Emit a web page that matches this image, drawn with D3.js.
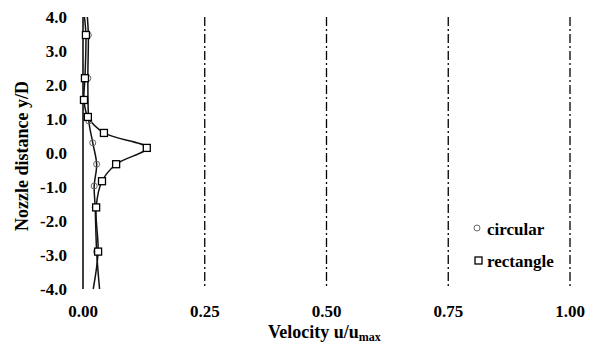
<!DOCTYPE html>
<html>
<head>
<meta charset="utf-8">
<script src="https://cdn.jsdelivr.net/npm/d3@7"></script>
<style>
  body { margin: 0; background: #fff; }
</style>
</head>
<body>
<div id="chart"></div>
<script>
// values
var xTicks = [0, 0.25, 0.5, 0.75, 1.0];
var yTicks = [4, 3, 2, 1, 0, -1, -2, -3, -4];

var circY = [4.0, 3.47, 2.2, 0.94, 0.3, -0.33, -0.97, -1.6, -2.9, -4.0];
var circX = [0.009, 0.011, 0.01, 0.012, 0.02, 0.028, 0.023, 0.025, 0.028, 0.034];

var rectY = [4.0, 3.47, 2.2, 1.56, 1.06, 0.59, 0.15, -0.33, -0.83, -1.6, -2.9, -4.0];
var rectX = [0.003, 0.006, 0.004, 0.002, 0.01, 0.043, 0.131, 0.068, 0.039, 0.027, 0.031, 0.021];

var width = 594;
var height = 347;

var svg = d3.select('#chart')
    .append('svg')
    .attr('width', width)
    .attr('height', height)
    .attr('font-family', "'Liberation Serif', 'Times New Roman', serif")
    .attr('font-weight', 'bold');

var x = d3.scaleLinear().domain([0, 1]).range([83, 570]);
var y = d3.scaleLinear().domain([-4, 4]).range([289, 17]);

// dash-dot gridlines
svg.append('g')
    .selectAll('line')
    .data(xTicks.slice(1))
    .enter()
    .append('line')
    .attr('x1', d => x(d)).attr('x2', d => x(d))
    .attr('y1', y(4)).attr('y2', y(-4))
    .attr('stroke', '#000')
    .attr('stroke-width', 1.3)
    .attr('stroke-dasharray', '9,3,2,3');

// left axis line
svg.append('line')
    .attr('x1', x(0)).attr('x2', x(0))
    .attr('y1', y(4)).attr('y2', y(-4))
    .attr('stroke', '#000')
    .attr('stroke-width', 1.5);

// tick labels
svg.append('g')
    .selectAll('text')
    .data(yTicks)
    .enter()
    .append('text')
    .attr('x', 67)
    .attr('y', d => y(d))
    .attr('dy', '0.35em')
    .attr('text-anchor', 'end')
    .attr('font-size', 17)
    .text(d => d3.format('.1f')(d).replace('−', '-'));

svg.append('g')
    .selectAll('text')
    .data(xTicks)
    .enter()
    .append('text')
    .attr('x', d => x(d))
    .attr('y', 317)
    .attr('text-anchor', 'middle')
    .attr('font-size', 17)
    .text(d => d3.format('.2f')(d));

// axis titles
var xt = svg.append('text')
    .attr('x', 268)
    .attr('y', 338)
    .attr('font-size', 18);
xt.append('tspan').text('Velocity u/u');
xt.append('tspan').attr('font-size', 12).attr('dy', 3).text('max');

svg.append('text')
    .attr('transform', 'translate(28,156) rotate(-90)')
    .attr('text-anchor', 'middle')
    .attr('font-size', 18)
    .text('Nozzle distance y/D');

// series lines
var line = d3.line()
    .x(d => x(d[0]))
    .y(d => y(d[1]))
    .curve(d3.curveCatmullRom.alpha(0.5));

var circ = d3.zip(circX, circY);
var rect = d3.zip(rectX, rectY);

svg.append('path')
    .attr('d', line(circ))
    .attr('fill', 'none')
    .attr('stroke', '#111')
    .attr('stroke-width', 1.5);

svg.append('path')
    .attr('d', line(rect))
    .attr('fill', 'none')
    .attr('stroke', '#111')
    .attr('stroke-width', 1.5);

// markers (end points at the axis limits carry none)
svg.append('g')
    .selectAll('circle')
    .data(circ.slice(1, -1))
    .enter()
    .append('circle')
    .attr('cx', d => x(d[0]))
    .attr('cy', d => y(d[1]))
    .attr('r', 3)
    .attr('fill', 'none')
    .attr('stroke', '#666')
    .attr('stroke-width', 1);

svg.append('g')
    .selectAll('rect')
    .data(rect.slice(1, -1))
    .enter()
    .append('rect')
    .attr('x', d => x(d[0]) - 3.5)
    .attr('y', d => y(d[1]) - 3.5)
    .attr('width', 7)
    .attr('height', 7)
    .attr('fill', '#fff')
    .attr('stroke', '#000')
    .attr('stroke-width', 1.3);

// legend
svg.append('circle')
    .attr('cx', 477).attr('cy', 228).attr('r', 3)
    .attr('fill', 'none').attr('stroke', '#666').attr('stroke-width', 1);
svg.append('text')
    .attr('x', 487).attr('y', 235)
    .attr('font-size', 17)
    .text('circular');

svg.append('rect')
    .attr('x', 475).attr('y', 257).attr('width', 7).attr('height', 7)
    .attr('fill', '#fff').attr('stroke', '#000').attr('stroke-width', 1.3);
svg.append('text')
    .attr('x', 487).attr('y', 267)
    .attr('font-size', 17)
    .text('rectangle');
</script>
</body>
</html>
